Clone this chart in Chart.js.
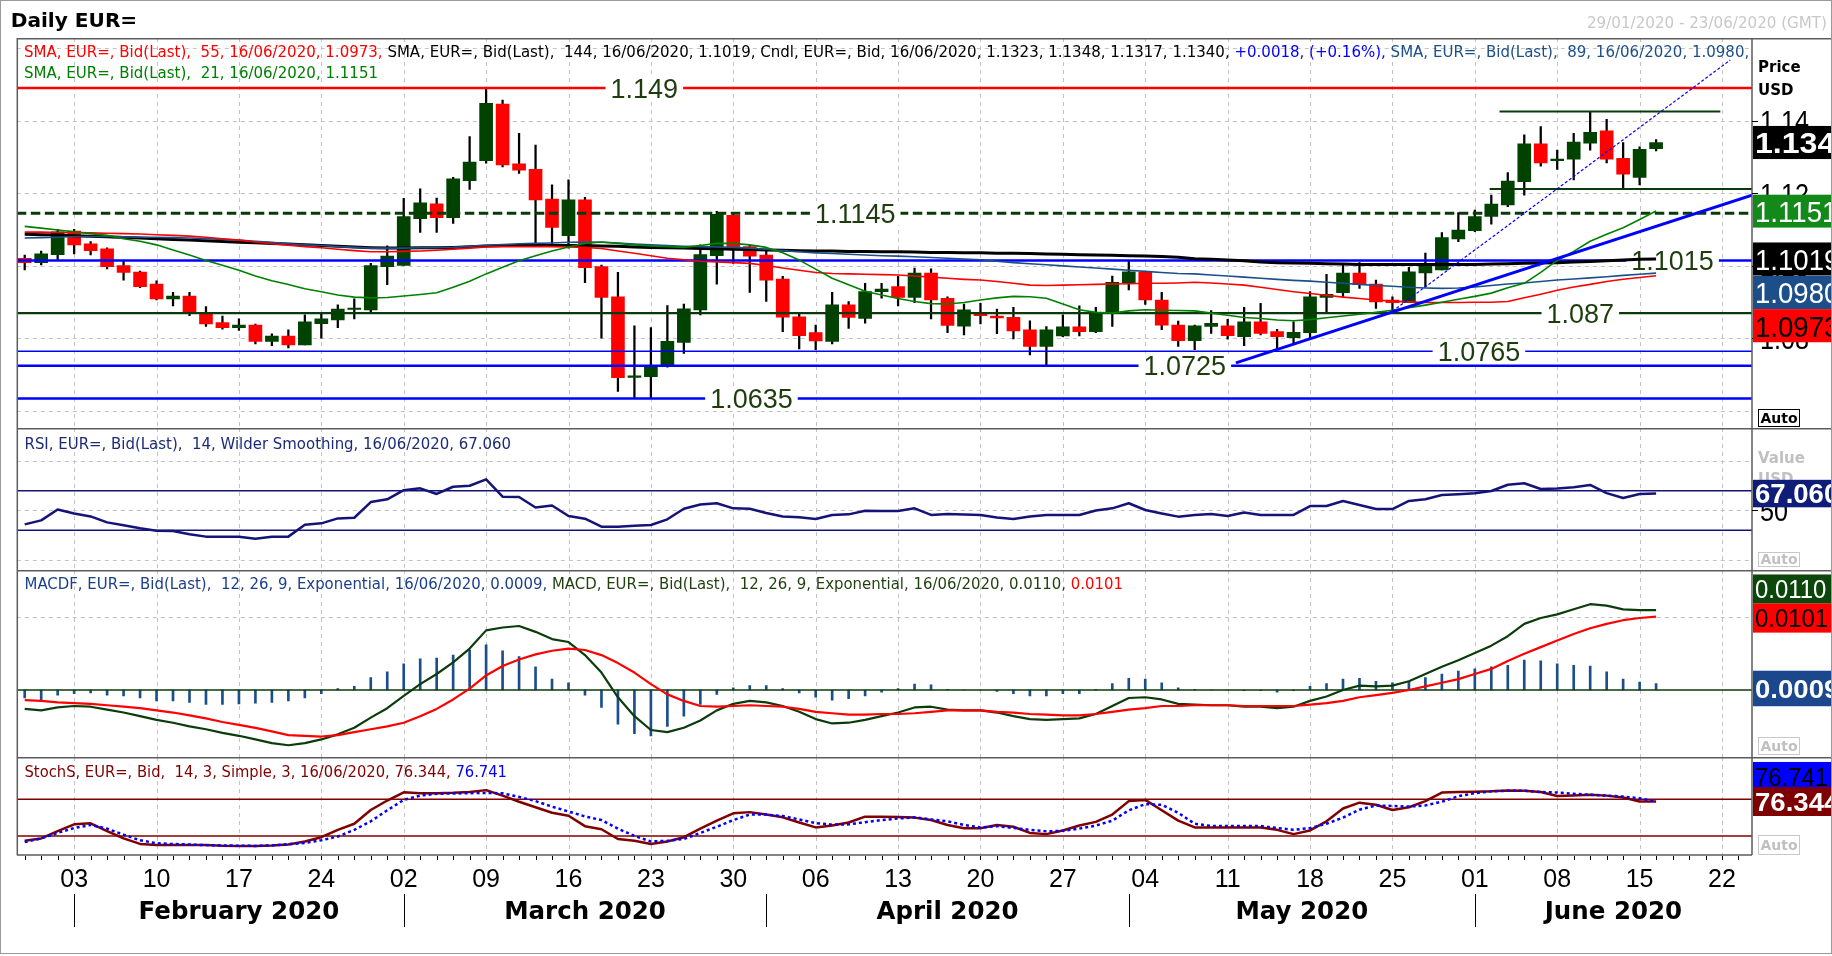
<!DOCTYPE html>
<html>
<head>
<meta charset="utf-8">
<title>Daily EUR=</title>
<script src="https://cdn.jsdelivr.net/npm/chart.js"></script>
<style>
  html, body { margin:0; padding:0; background:#ffffff; }
  #wrap { position:relative; width:1832px; height:956px; background:#ffffff; overflow:hidden; }
  #wrap canvas { position:absolute; left:0; }
  #frame { position:absolute; left:0; top:0; width:1830px; height:952px; border:1px solid #9a9a9a; pointer-events:none; }
</style>
</head>
<body>
<div id="wrap">
  <canvas id="cMain" width="1832" height="428" style="top:0px;width:1832px;height:428px"></canvas>
  <canvas id="cRsi" width="1832" height="142" style="top:428px;width:1832px;height:142px"></canvas>
  <canvas id="cMacd" width="1832" height="187" style="top:570px;width:1832px;height:187px"></canvas>
  <canvas id="cSto" width="1832" height="199" style="top:757px;width:1832px;height:199px"></canvas>
  <div id="frame"></div>
</div>
<script>
// ===================== DATA =====================
const dates = ['29/01','30/01','31/01','03/02','04/02','05/02','06/02','07/02','10/02','11/02','12/02','13/02','14/02','17/02','18/02','19/02','20/02','21/02','24/02','25/02','26/02','27/02','28/02','02/03','03/03','04/03','05/03','06/03','09/03','10/03','11/03','12/03','13/03','16/03','17/03','18/03','19/03','20/03','23/03','24/03','25/03','26/03','27/03','30/03','31/03','01/04','02/04','03/04','06/04','07/04','08/04','09/04','10/04','13/04','14/04','15/04','16/04','17/04','20/04','21/04','22/04','23/04','24/04','27/04','28/04','29/04','30/04','01/05','04/05','05/05','06/05','07/05','08/05','11/05','12/05','13/05','14/05','15/05','18/05','19/05','20/05','21/05','22/05','25/05','26/05','27/05','28/05','29/05','01/06','02/06','03/06','04/06','05/06','08/06','09/06','10/06','11/06','12/06','15/06','16/06'];
const futureDates = ['17/06','18/06','19/06','22/06','23/06'];

const open = [1.1021,1.1009,1.1031,1.1096,1.1061,1.1047,1.1001,1.0983,1.0950,1.0909,
1.0917,1.0871,1.0844,1.0830,1.0837,1.0792,1.0807,1.0782,1.0841,1.0851,
1.0880,1.0879,1.0998,1.1001,1.1130,1.1171,1.1133,1.1235,1.1290,1.1446,
1.1281,1.1266,1.1184,1.1083,1.1182,1.0998,1.0915,1.0693,1.0695,1.0727,
1.0789,1.0879,1.1028,1.1139,1.1053,1.1030,1.0964,1.0860,1.0816,1.0792,
1.0893,1.0855,1.0929,1.0943,1.0913,1.0980,1.0911,1.0834,1.0872,1.0862,
1.0858,1.0824,1.0778,1.0807,1.0832,1.0819,1.0870,1.0954,1.0982,1.0906,
1.0837,1.0794,1.0833,1.0835,1.0805,1.0846,1.0819,1.0802,1.0816,1.0913,
1.0926,1.0980,1.0950,1.0906,1.0899,1.0981,1.0989,1.1074,1.1097,1.1136,
1.1168,1.1232,1.1336,1.1290,1.1294,1.1338,1.1372,1.1296,1.1244,1.1323];
const high = [1.1030,1.1041,1.1101,1.1101,1.1067,1.1050,1.1015,1.0986,1.0959,1.0927,
1.0927,1.0888,1.0862,1.0854,1.0840,1.0813,1.0824,1.0865,1.0871,1.0893,
1.0909,1.1007,1.1055,1.1186,1.1212,1.1187,1.1244,1.1356,1.1487,1.1457,
1.1365,1.1333,1.1223,1.1237,1.1189,1.1002,1.0982,1.0835,1.0830,1.0891,
1.0895,1.1058,1.1150,1.1145,1.1058,1.1046,1.0971,1.0868,1.0837,1.0927,
1.0902,1.0952,1.0952,1.0971,1.0994,1.0992,1.0915,1.0895,1.0897,1.0881,
1.0886,1.0849,1.0833,1.0865,1.0890,1.0886,1.0972,1.1015,1.0982,1.0927,
1.0848,1.0837,1.0877,1.0853,1.0886,1.0897,1.0825,1.0846,1.0929,1.0977,
1.1007,1.1009,1.0961,1.0915,1.0996,1.1035,1.1092,1.1147,1.1154,1.1195,
1.1257,1.1361,1.1384,1.1319,1.1365,1.1423,1.1404,1.1340,1.1328,1.1348];
const low = [1.0989,1.1003,1.1018,1.1033,1.1030,1.0992,1.0961,1.0940,1.0906,1.0890,
1.0863,1.0833,1.0826,1.0822,1.0785,1.0780,1.0774,1.0782,1.0801,1.0830,
1.0854,1.0874,1.0948,1.1001,1.1092,1.1092,1.1117,1.1211,1.1283,1.1273,
1.1255,1.1058,1.1055,1.1049,1.0954,1.0801,1.0654,1.0636,1.0636,1.0721,
1.0759,1.0865,1.0950,1.1007,1.0927,1.0902,1.0819,1.0771,1.0769,1.0785,
1.0828,1.0842,1.0911,1.0890,1.0899,1.0854,1.0816,1.0810,1.0840,1.0813,
1.0799,1.0755,1.0727,1.0805,1.0807,1.0816,1.0833,1.0934,1.0894,1.0824,
1.0778,1.0769,1.0814,1.0798,1.0780,1.0810,1.0773,1.0787,1.0800,1.0874,
1.0915,1.0938,1.0883,1.0878,1.0899,1.0943,1.0989,1.1067,1.1094,1.1115,
1.1163,1.1195,1.1275,1.1266,1.1237,1.1319,1.1284,1.1214,1.1223,1.1317];
const close = [1.1009,1.1033,1.1094,1.1058,1.1042,1.0998,1.0982,1.0943,1.0909,1.0917,
1.0874,1.0840,1.0830,1.0837,1.0792,1.0807,1.0782,1.0846,1.0854,1.0881,
1.0882,1.1001,1.1027,1.1136,1.1174,1.1133,1.1240,1.1286,1.1448,1.1278,
1.1264,1.1182,1.1106,1.1182,1.0995,1.0913,1.0692,1.0695,1.0725,1.0792,
1.0882,1.1031,1.1142,1.1053,1.1027,1.0961,1.0859,1.0808,1.0793,1.0893,
1.0858,1.0929,1.0936,1.0913,1.0980,1.0906,1.0836,1.0879,1.0863,1.0857,
1.0821,1.0778,1.0824,1.0832,1.0819,1.0870,1.0955,1.0984,1.0906,1.0837,
1.0794,1.0835,1.0842,1.0808,1.0846,1.0814,1.0805,1.0817,1.0915,1.0922,
1.0980,1.0948,1.0901,1.0899,1.0984,1.1007,1.1078,1.1099,1.1136,1.1170,
1.1234,1.1336,1.1284,1.1292,1.1341,1.1368,1.1294,1.1253,1.1321,1.1340];

const sma21 = [1.1109,1.1104,1.1099,1.1094,1.1089,1.1084,1.1075,1.1068,1.1058,1.1044,
1.1030,1.1015,1.1002,1.0988,1.0972,1.0959,1.0949,1.0937,1.0929,1.0920,
1.0914,1.0912,1.0913,1.0917,1.0921,1.0926,1.0941,1.0958,1.0978,1.0996,
1.1014,1.1028,1.1041,1.1052,1.1062,1.1066,1.1062,1.1058,1.1055,1.1053,
1.1051,1.1056,1.1062,1.1062,1.1058,1.1051,1.1036,1.1016,1.0991,1.0966,
1.0948,1.0930,1.0920,1.0910,1.0902,1.0896,1.0895,1.0899,1.0906,1.0912,
1.0916,1.0915,1.0911,1.0895,1.0879,1.0872,1.0870,1.0876,1.0879,1.0878,
1.0877,1.0876,1.0870,1.0864,1.0858,1.0855,1.0851,1.0849,1.0852,1.0857,
1.0862,1.0867,1.0872,1.0878,1.0885,1.0892,1.0900,1.0908,1.0916,1.0925,
1.0940,1.0952,1.0982,1.1015,1.1040,1.1068,1.1087,1.1105,1.1128,1.1151];
const sma55 = [1.1093,1.1093,1.1092,1.1092,1.1091,1.1090,1.1089,1.1088,1.1086,1.1084,
1.1082,1.1079,1.1075,1.1071,1.1066,1.1061,1.1057,1.1053,1.1050,1.1046,
1.1042,1.1039,1.1039,1.1040,1.1041,1.1043,1.1046,1.1049,1.1052,1.1053,
1.1053,1.1053,1.1053,1.1052,1.1051,1.1048,1.1041,1.1035,1.1028,1.1021,
1.1017,1.1013,1.1011,1.1009,1.1007,1.1001,1.0994,1.0988,1.0982,1.0979,
1.0978,1.0977,1.0976,1.0975,1.0972,1.0969,1.0966,1.0963,1.0961,1.0957,
1.0952,1.0947,1.0946,1.0947,1.0948,1.0949,1.0950,1.0951,1.0952,1.0952,
1.0953,1.0955,1.0953,1.0950,1.0947,1.0941,1.0935,1.0929,1.0924,1.0919,
1.0914,1.0910,1.0906,1.0903,1.0901,1.0899,1.0899,1.0899,1.0900,1.0900,
1.0902,1.0912,1.0922,1.0933,1.0942,1.0949,1.0957,1.0963,1.0968,1.0973];
const sma89 = [1.1077,1.1078,1.1079,1.1081,1.1081,1.1081,1.1080,1.1079,1.1079,1.1078,
1.1077,1.1075,1.1073,1.1071,1.1068,1.1065,1.1061,1.1058,1.1056,1.1053,
1.1051,1.1049,1.1049,1.1049,1.1050,1.1050,1.1051,1.1054,1.1057,1.1059,
1.1061,1.1062,1.1063,1.1065,1.1066,1.1065,1.1063,1.1060,1.1058,1.1056,
1.1054,1.1053,1.1052,1.1051,1.1049,1.1046,1.1042,1.1039,1.1036,1.1034,
1.1032,1.1030,1.1028,1.1027,1.1025,1.1023,1.1021,1.1019,1.1017,1.1013,
1.1009,1.1006,1.1003,1.1000,1.0997,1.0994,1.0991,1.0988,1.0985,1.0982,
1.0979,1.0978,1.0975,1.0972,1.0969,1.0966,1.0963,1.0960,1.0958,1.0955,
1.0952,1.0949,1.0946,1.0944,1.0941,1.0939,1.0938,1.0939,1.0942,1.0946,
1.0950,1.0953,1.0957,1.0961,1.0964,1.0967,1.0970,1.0974,1.0977,1.0980];
const sma144 = [1.1087,1.1086,1.1085,1.1083,1.1082,1.1080,1.1078,1.1077,1.1075,1.1073,
1.1071,1.1069,1.1067,1.1065,1.1064,1.1062,1.1060,1.1058,1.1056,1.1054,
1.1052,1.1050,1.1049,1.1049,1.1050,1.1050,1.1051,1.1053,1.1055,1.1056,
1.1056,1.1056,1.1056,1.1056,1.1056,1.1055,1.1054,1.1052,1.1051,1.1050,
1.1049,1.1048,1.1047,1.1046,1.1045,1.1044,1.1043,1.1042,1.1041,1.1041,
1.1040,1.1040,1.1039,1.1039,1.1038,1.1037,1.1037,1.1036,1.1036,1.1035,
1.1035,1.1034,1.1033,1.1032,1.1031,1.1030,1.1029,1.1028,1.1027,1.1026,
1.1024,1.1020,1.1018,1.1016,1.1014,1.1011,1.1009,1.1008,1.1007,1.1006,
1.1005,1.1004,1.1004,1.1004,1.1004,1.1004,1.1004,1.1004,1.1004,1.1005,
1.1006,1.1007,1.1008,1.1009,1.1011,1.1012,1.1014,1.1016,1.1018,1.1019];

const rsi14 = [36,40,51,47,44,38,35,32,29.6,29.2,
26,23.6,23.6,23.6,21.5,23.6,23.6,35.5,37,42,
42.7,58.5,61.3,70.5,72.4,66.7,74,75,81.5,64,
63.6,53,55,44.5,41.7,33.7,33.7,34.5,35.4,41.1,
51.8,56,57.3,52.2,51.8,47.5,44,43.1,41.4,45.5,
46.1,49.8,49.6,49.5,52.2,45.5,46.5,46,45.5,43,
41.4,44,45.5,45.5,45.5,50,52.2,57.3,50.5,47,
43.8,45.5,46.5,44.4,48,45.5,45.5,45.5,54.5,54.5,
59.6,55.5,51.5,51.5,59.6,61.3,65.6,66.5,67.5,69.7,
76,77.5,71.7,72.2,73.5,75.8,67.5,62.6,66.7,67.06];

const macdLine = [-0.0026,-0.0028,-0.0024,-0.0022,-0.0023,-0.0027,-0.0031,-0.0036,-0.0041,-0.0045,
-0.0050,-0.0054,-0.0059,-0.0063,-0.0068,-0.0073,-0.0076,-0.0073,-0.0068,-0.0061,
-0.0052,-0.0038,-0.0025,-0.0008,0.0008,0.0022,0.0038,0.0057,0.0082,0.0086,
0.0088,0.0080,0.0070,0.0066,0.0048,0.0024,-0.0010,-0.0036,-0.0055,-0.0058,
-0.0052,-0.0042,-0.0028,-0.0019,-0.0015,-0.0017,-0.0022,-0.0030,-0.0040,-0.0046,
-0.0045,-0.0041,-0.0036,-0.0031,-0.0024,-0.0023,-0.0027,-0.0028,-0.0028,-0.0031,
-0.0036,-0.0040,-0.0041,-0.0040,-0.0039,-0.0033,-0.0022,-0.0011,-0.0010,-0.0013,
-0.0019,-0.0020,-0.0021,-0.0021,-0.0023,-0.0023,-0.0025,-0.0023,-0.0015,-0.0009,
0.0000,0.0006,0.0005,0.0006,0.0012,0.0022,0.0032,0.0041,0.0051,0.0061,
0.0074,0.0091,0.0099,0.0104,0.0111,0.0118,0.0116,0.0111,0.0110,0.0110];
const macdSignal = [-0.0014,-0.0015,-0.0017,-0.0018,-0.0019,-0.0021,-0.0023,-0.0025,-0.0028,-0.0031,
-0.0035,-0.0039,-0.0044,-0.0048,-0.0052,-0.0057,-0.0062,-0.0063,-0.0064,-0.0062,
-0.0058,-0.0054,-0.0050,-0.0045,-0.0036,-0.0026,-0.0013,0.0002,0.0020,0.0033,
0.0042,0.0049,0.0054,0.0057,0.0055,0.0048,0.0037,0.0024,0.0008,-0.0006,
-0.0015,-0.0022,-0.0023,-0.0022,-0.0021,-0.0022,-0.0023,-0.0026,-0.0030,-0.0032,
-0.0034,-0.0034,-0.0033,-0.0033,-0.0032,-0.0030,-0.0028,-0.0028,-0.0028,-0.0030,
-0.0031,-0.0033,-0.0034,-0.0035,-0.0035,-0.0033,-0.0030,-0.0027,-0.0025,-0.0022,
-0.0022,-0.0021,-0.0021,-0.0021,-0.0022,-0.0022,-0.0022,-0.0022,-0.0020,-0.0018,
-0.0015,-0.0010,-0.0007,-0.0004,0.0000,0.0005,0.0010,0.0015,0.0022,0.0029,
0.0040,0.0050,0.0059,0.0068,0.0077,0.0085,0.0091,0.0096,0.0099,0.0101];
const macdHist = [-0.0011,-0.0016,-0.0007,-0.0005,-0.0004,-0.0007,-0.0008,-0.0011,-0.0015,-0.0015,
-0.0017,-0.0020,-0.0020,-0.0019,-0.0018,-0.0017,-0.0015,-0.0011,-0.0005,0.0002,
0.0005,0.0017,0.0025,0.0036,0.0043,0.0044,0.0048,0.0055,0.0062,0.0054,
0.0046,0.0032,0.0015,0.0010,-0.0007,-0.0024,-0.0047,-0.0060,-0.0063,-0.0050,
-0.0036,-0.0020,-0.0006,0.0003,0.0006,0.0006,0.0002,-0.0004,-0.0010,-0.0014,
-0.0012,-0.0008,-0.0003,0.0002,0.0008,0.0007,0.0001,0.0000,0.0000,-0.0002,
-0.0005,-0.0008,-0.0008,-0.0005,-0.0005,0.0001,0.0009,0.0016,0.0015,0.0010,
0.0003,0.0001,0.0000,0.0000,-0.0001,-0.0001,-0.0003,-0.0001,0.0005,0.0009,
0.0015,0.0016,0.0012,0.0010,0.0012,0.0017,0.0022,0.0026,0.0029,0.0032,
0.0034,0.0041,0.0040,0.0036,0.0034,0.0033,0.0025,0.0015,0.0011,0.0009];

const stochK = [12,16,28,39,40.7,28,16,7,5.2,5.2,
5.2,5.2,4,3.6,3.6,4.5,6,11,18,30,
40,62.5,78,91.4,89.7,89.7,90.5,92,95,86,
76,67,58,53,36,31,15,12,7,11,
18,32,45,57,59,55,50.5,42,34,37,
42,51.6,51.6,51,50,46,38,32.5,32.5,37.9,
35,25,23,29,37,43,55,77,79,62,
45,34,34,34,34,34,30,23,29,44,
65,74.5,71,62.5,67,77,91,92,92.5,93,
94.5,94,92,85.5,86.3,87.5,86,83,76.3,76.344];
const stochD = [10,16,25,33,38,32,22,13,8,6.8,
6,5,4.5,4,3.7,4.5,6.5,8.5,13,19,
30,44,62,79,86,89,89.5,90,90.5,89.7,
84,77,68,60,52,46,32,20,11,12,
15,25,35,46,55,55,52.7,47,41,38.5,
39,42.5,46,48.5,50.5,47,44,38,34,36,
33,30,27.5,28.5,32,37,45,62,72,71,
58,40,36.3,36.3,36.3,36.3,33,30,33,40,
50,63,70,69,68,70,76,85,90,93,
94,94,92,91,89,87.5,86,84.5,81.6,76.741];

// horizontal levels, trend lines and segments (value space)
const levelValues = [1.149, 1.1145, 1.1015, 1.087, 1.0765, 1.0725, 1.0635];
const levelLabels = ['1.149','1.1145','1.1015','1.087','1.0765','1.0725','1.0635'];
const levelLabelIdx = [37.6, 50.4, 100.0, 94.4, 88.25, 70.4, 44.1];
const upTrendX = [73.5, 104.82], upTrendY = [1.0733, 1.1195];
const steepTrendX = [83.0, 103.5], steepTrendY = [1.0875, 1.1567];
const topRangeX = [89.5, 102.9], topRangeY = [1.1425, 1.1425];
const lowRangeX = [88.9, 104.82], lowRangeY = [1.1212, 1.1212];

// axis ticks
const priceGrid = [1.06, 1.08, 1.10, 1.12, 1.14, 1.16];
const priceTickVals = [1.08, 1.10, 1.12, 1.14];
const priceTickLabels = ['1.08', '1.10', '1.12', '1.14'];
const rsiLevels = [70, 30];
const rsiGrid = [0, 50, 100];
const macdGrid = [0.01];
const stochLevels = [80, 20];
const mondayIdx = [3,8,13,18,23,28,33,38,43,48,53,58,63,68,73,78,83,88,93,98,103];
const mondayLabels = ['03','10','17','24','02','09','16','23','30','06','13','20','27','04','11','18','25','01','08','15','22'];
const monthNames = ['February 2020','March 2020','April 2020','May 2020','June 2020'];
const monthStartIdx = [3, 23, 45, 67, 88];

// ===================== LAYOUT / STYLE =====================
const X_MIN = -0.48, X_MAX = 104.82;
const F_DV = '"DejaVu Sans", Verdana, sans-serif';
const F_LIB = '"Liberation Sans", Arial, sans-serif';
const GREEN_DK = '#0a3a0a';
const SMA89_C = '#1c4f8a';
const N = dates.length;
const idx = dates.map((_, i) => i);

function xCfg() { return { type: 'linear', min: X_MIN, max: X_MAX, display: false, offset: false }; }
function pts(arr) { return idx.map(i => ({ x: i, y: arr[i] })); }
function seg(xs, ys) { return xs.map((x, k) => ({ x: x, y: ys[k] })); }
function flat(v) { return [{ x: X_MIN, y: v }, { x: X_MAX, y: v }]; }
function lineDs(data, color, width, order, extra) {
  return Object.assign({ type: 'line', data: data, borderColor: color, borderWidth: width, pointRadius: 0,
    tension: 0, fill: false, order: order, borderJoinStyle: 'round' }, extra || {});
}

function fitText(ctx, segs, x, y, font, targetW) {
  ctx.save();
  ctx.font = font; ctx.textBaseline = 'alphabetic'; ctx.textAlign = 'left';
  let w = 0; for (const s of segs) w += ctx.measureText(s[0]).width;
  const sx = targetW ? targetW / w : 1;
  ctx.translate(x, y); ctx.scale(sx, 1);
  let cx = 0;
  for (const s of segs) { ctx.fillStyle = s[1]; ctx.fillText(s[0], cx, 0); cx += ctx.measureText(s[0]).width; }
  ctx.restore();
}
function valueBox(ctx, yc, h, bg, fg, text, bold, px, sx) {
  ctx.save();
  ctx.beginPath(); ctx.rect(1753, yc - h / 2, 79, h); ctx.clip();
  ctx.fillStyle = bg; ctx.fillRect(1753, yc - h / 2, 79, h);
  ctx.fillStyle = fg; ctx.font = (bold ? 'bold ' : '') + px + 'px ' + F_LIB;
  ctx.textBaseline = 'alphabetic'; ctx.textAlign = 'left';
  ctx.translate(1755, yc + px * 0.716 / 2); ctx.scale(sx, 1); ctx.fillText(text, 0, 0);
  ctx.restore();
}
function axisLabel(ctx, y, text, color) {
  ctx.save();
  ctx.strokeStyle = '#000'; ctx.lineWidth = 1; ctx.beginPath(); ctx.moveTo(1752, Math.round(y) + 0.5); ctx.lineTo(1758, Math.round(y) + 0.5); ctx.stroke();
  ctx.fillStyle = color || '#000'; ctx.font = '30px ' + F_LIB; ctx.textBaseline = 'alphabetic';
  ctx.translate(1760, y + 10.7); ctx.scale(0.84, 1); ctx.fillText(text, 0, 0);
  ctx.restore();
}
function autoBox(ctx, top, bottom, dark) {
  ctx.save();
  ctx.fillStyle = '#fff'; ctx.fillRect(1758, top, 42, bottom - top);
  ctx.strokeStyle = dark ? '#000' : '#c8c8c8'; ctx.lineWidth = 1;
  ctx.strokeRect(1758.5, top + 0.5, 41, bottom - top - 1);
  ctx.fillStyle = dark ? '#000' : '#c0c0c0'; ctx.font = 'bold 14px ' + F_DV;
  ctx.textAlign = 'center'; ctx.textBaseline = 'middle'; ctx.fillText('Auto', 1779, (top + bottom) / 2 + 1);
  ctx.restore();
}
function gridPlugin(hVals) {
  return { id: 'panelGrid', beforeDatasetsDraw(chart) {
    const ctx = chart.ctx, a = chart.chartArea, xs = chart.scales.x, ys = chart.scales.y;
    ctx.save(); ctx.strokeStyle = '#c4c4c4'; ctx.lineWidth = 1; ctx.setLineDash([4, 4]);
    ctx.beginPath();
    for (const m of mondayIdx) { const px = Math.round(xs.getPixelForValue(m)) + 0.5; ctx.moveTo(px, a.top); ctx.lineTo(px, a.bottom); }
    for (const v of hVals) { const py = Math.round(ys.getPixelForValue(v)) + 0.5; if (py > a.top + 1 && py < a.bottom - 1) { ctx.moveTo(a.left, py); ctx.lineTo(a.right, py); } }
    ctx.stroke(); ctx.restore();
  } };
}
function panelFrame(chart, withBottom) {
  const ctx = chart.ctx, a = chart.chartArea;
  ctx.save(); ctx.strokeStyle = '#5c5c5c'; ctx.lineWidth = 1.5; ctx.setLineDash([]);
  ctx.beginPath();
  const t = a.top + 0.75;
  ctx.moveTo(a.left, t); ctx.lineTo(1832, t);
  ctx.moveTo(a.left + 0.5, a.top); ctx.lineTo(a.left + 0.5, a.bottom);
  ctx.moveTo(a.right, a.top); ctx.lineTo(a.right, a.bottom);
  if (withBottom) { ctx.moveTo(a.left, a.bottom); ctx.lineTo(a.right, a.bottom); }
  ctx.stroke(); ctx.restore();
}
const baseOptions = (yMin, yMax, padding) => ({
  responsive: false, animation: false, events: [],
  layout: { padding: padding },
  scales: { x: xCfg(), y: { type: 'linear', min: yMin, max: yMax, display: false } },
  plugins: { legend: { display: false }, tooltip: { enabled: false }, title: { display: false } }
});

// ===================== MAIN PRICE PANEL =====================
const levelStyles = [
  { c: '#ff0000', w: 2.5 }, { c: GREEN_DK, w: 3, dash: [9.5, 4.5] }, { c: '#0000ff', w: 2.5 },
  { c: GREEN_DK, w: 2.2 }, { c: '#0000ff', w: 1.5 }, { c: '#0000ff', w: 2.5 }, { c: '#0000ff', w: 2.5 }
];
const mainDatasets = [
  { type: 'bar', data: idx.map(i => ({ x: i, y: [low[i], high[i]] })), backgroundColor: '#000000',
    barThickness: 1.6, grouped: false, order: 60 },
  { type: 'bar', data: idx.map(i => ({ x: i, y: [open[i], close[i]] })),
    backgroundColor: idx.map(i => close[i] >= open[i] ? '#004200' : '#ff0000'),
    barThickness: 13, minBarLength: 1.5, grouped: false, order: 50 }
];
levelValues.forEach((v, k) => {
  const st = levelStyles[k];
  mainDatasets.push(lineDs(flat(v), st.c, st.w, 41 + k, { borderDash: st.dash || [], borderJoinStyle: 'miter', labelsAfter: k === 0 }));
});
mainDatasets.push(lineDs(pts(sma144), '#000000', 3, 34));
mainDatasets.push(lineDs(pts(sma89), SMA89_C, 1.6, 33));
mainDatasets.push(lineDs(pts(sma55), '#ff0000', 1.6, 32));
mainDatasets.push(lineDs(pts(sma21), '#008000', 1.6, 31));
mainDatasets.push(lineDs(seg(topRangeX, topRangeY), GREEN_DK, 2, 24));
mainDatasets.push(lineDs(seg(lowRangeX, lowRangeY), GREEN_DK, 2, 23));
mainDatasets.push(lineDs(seg(upTrendX, upTrendY), '#0000ff', 3, 22));
mainDatasets.push(lineDs(seg(steepTrendX, steepTrendY), '#0000ff', 1.2, 21, { borderDash: [3, 2] }));

const mainOverlay = {
  id: 'mainOverlay',
  afterDatasetDraw(chart, args) {
    const ds = chart.data.datasets[args.index];
    if (!ds.labelsAfter) return;
    const ctx = chart.ctx, xs = chart.scales.x, ys = chart.scales.y;
    ctx.save();
    ctx.font = '27px ' + F_LIB;
    levelValues.forEach((v, k) => {
      const x = xs.getPixelForValue(levelLabelIdx[k]), y = ys.getPixelForValue(v);
      const w = ctx.measureText(levelLabels[k]).width;
      ctx.fillStyle = '#ffffff'; ctx.fillRect(x - w / 2 - 5, y - 12, w + 10, 24);
      ctx.fillStyle = '#1e3d0e'; ctx.textAlign = 'center'; ctx.textBaseline = 'alphabetic';
      ctx.fillText(levelLabels[k], x, y + 9.7);
    });
    ctx.restore();
  },
  afterDraw(chart) {
    const ctx = chart.ctx, ys = chart.scales.y;
    // title & date range
    fitText(ctx, [['Daily EUR=', '#000000']], 10.7, 26.7, 'bold 20px ' + F_DV, 126.5);
    fitText(ctx, [['29/01/2020 - 23/06/2020 (GMT)', '#c8c8c8']], 1827 - 240, 28.3, '16px ' + F_DV, 240);
    // legend
    ctx.save(); ctx.beginPath(); ctx.rect(0, 0, 1751, 428); ctx.clip();
    fitText(ctx, [
      ['SMA, EUR=, Bid(Last),  55, 16/06/2020, 1.0973, ', '#ff0000'],
      ['SMA, EUR=, Bid(Last),  144, 16/06/2020, 1.1019, ', '#000000'],
      ['Cndl, EUR=, Bid, 16/06/2020, 1.1323, 1.1348, 1.1317, 1.1340, ', '#000000'],
      ['+0.0018, (+0.16%), ', '#0000ff'],
      ['SMA, EUR=, Bid(Last),  89, 16/06/2020, 1.0980, ', SMA89_C]
    ], 24, 56.7, '15px ' + F_DV, 1730);
    ctx.restore();
    fitText(ctx, [['SMA, EUR=, Bid(Last),  21, 16/06/2020, 1.1151', '#008000']], 24, 78.3, '15px ' + F_DV, 354);
    panelFrame(chart, false);
    // right axis
    ctx.save(); ctx.fillStyle = '#000'; ctx.font = 'bold 15px ' + F_DV; ctx.textBaseline = 'alphabetic';
    ctx.fillText('Price', 1758, 71.7); ctx.fillText('USD', 1758, 95); ctx.restore();
    priceTickVals.forEach((v, k) => axisLabel(ctx, ys.getPixelForValue(v), priceTickLabels[k]));
    const boxes = [
      { v: close[N - 1], bg: '#000000', fg: '#ffffff', bold: true, sx: 1.07 },
      { v: sma21[N - 1], bg: '#13891a', fg: '#ffffff', bold: false, sx: 0.92 },
      { v: sma144[N - 1], bg: '#000000', fg: '#ffffff', bold: false, sx: 0.92 },
      { v: sma89[N - 1], bg: SMA89_C, fg: '#ffffff', bold: false, sx: 0.92 },
      { v: sma55[N - 1], bg: '#ff0000', fg: '#000000', bold: false, sx: 0.92 }
    ].sort((a, b) => b.v - a.v);
    const H = 33.4; let prevBottom = -1e9;
    boxes.forEach(b => {
      let top = ys.getPixelForValue(b.v) - H / 2;
      if (top < prevBottom) top = prevBottom;
      valueBox(ctx, top + H / 2, H, b.bg, b.fg, b.v.toFixed(4), b.bold, 30, b.sx);
      prevBottom = top + H;
    });
    autoBox(ctx, 409, 427, true);
  }
};

new Chart(document.getElementById('cMain'), {
  type: 'bar',
  data: { datasets: mainDatasets },
  options: baseOptions(1.055344, 1.162782, { left: 16.8, right: 80, top: 38, bottom: 0 }),
  plugins: [gridPlugin(priceGrid), mainOverlay]
});

// ===================== RSI PANEL =====================
const rsiOverlay = {
  id: 'rsiOverlay',
  afterDraw(chart) {
    const ctx = chart.ctx, ys = chart.scales.y;
    fitText(ctx, [['RSI, EUR=, Bid(Last),  14, Wilder Smoothing, 16/06/2020, 67.060', '#1c2a78']], 24.5, 21.3, '15px ' + F_DV, 486.5);
    panelFrame(chart, false);
    ctx.save(); ctx.fillStyle = '#c0c0c0'; ctx.font = 'bold 15px ' + F_DV; ctx.textBaseline = 'alphabetic';
    ctx.fillText('Value', 1758, 35.3); ctx.fillText('USD', 1758, 56); ctx.restore();
    axisLabel(ctx, ys.getPixelForValue(50), '50');
    valueBox(ctx, ys.getPixelForValue(rsi14[N - 1]), 28, '#0d1d78', '#ffffff', rsi14[N - 1].toFixed(3), true, 27, 1.02);
    autoBox(ctx, 124, 139, false);
  }
};
new Chart(document.getElementById('cRsi'), {
  type: 'line',
  data: { datasets: [
    lineDs(pts(rsi14), '#141478', 2.5, 1),
    lineDs(flat(rsiLevels[0]), '#141478', 1.5, 2),
    lineDs(flat(rsiLevels[1]), '#141478', 1.5, 3)
  ] },
  options: baseOptions(-10.1, 133.33, { left: 16.8, right: 80, top: 0, bottom: 0 }),
  plugins: [gridPlugin(rsiGrid), rsiOverlay]
});

// ===================== MACD PANEL =====================
const macdOverlay = {
  id: 'macdOverlay',
  afterDraw(chart) {
    const ctx = chart.ctx, ys = chart.scales.y;
    fitText(ctx, [
      ['MACDF, EUR=, Bid(Last),  12, 26, 9, Exponential, 16/06/2020, 0.0009, ', '#1c3f8a'],
      ['MACD, EUR=, Bid(Last),  12, 26, 9, Exponential, 16/06/2020, 0.0110, ', '#1f3f0f'],
      ['0.0101', '#ff0000']
    ], 24.5, 19.3, '15px ' + F_DV, 1098.5);
    panelFrame(chart, false);
    valueBox(ctx, ys.getPixelForValue(macdLine[N - 1]) - 21, 29.5, '#0b470b', '#ffffff', macdLine[N - 1].toFixed(4), false, 26, 0.92);
    valueBox(ctx, ys.getPixelForValue(macdSignal[N - 1]) + 1.5, 29.5, '#ff0000', '#000000', macdSignal[N - 1].toFixed(4), false, 26, 0.92);
    valueBox(ctx, ys.getPixelForValue(macdHist[N - 1]) + 5, 36, '#1b478c', '#ffffff', macdHist[N - 1].toFixed(4), true, 26, 1.06);
    autoBox(ctx, 167, 185, false);
  }
};
new Chart(document.getElementById('cMacd'), {
  type: 'bar',
  data: { datasets: [
    { type: 'bar', data: pts(macdHist), backgroundColor: SMA89_C, barThickness: 2, grouped: false, order: 5 },
    lineDs(flat(0), GREEN_DK, 1.5, 4, { borderJoinStyle: 'miter' }),
    lineDs(pts(macdLine), '#0b3d0b', 2.2, 3),
    lineDs(pts(macdSignal), '#ff0000', 2.2, 2)
  ] },
  options: baseOptions(-0.009216, 0.016506, { left: 16.8, right: 80, top: 0, bottom: 0 }),
  plugins: [gridPlugin(macdGrid), macdOverlay]
});

// ===================== STOCHASTIC PANEL + X AXIS =====================
const stoOverlay = {
  id: 'stoOverlay',
  afterDraw(chart) {
    const ctx = chart.ctx, ys = chart.scales.y, xs = chart.scales.x, a = chart.chartArea;
    fitText(ctx, [
      ['StochS, EUR=, Bid,  14, 3, Simple, 3, 16/06/2020, 76.344, ', '#800000'],
      ['76.741', '#0000ff']
    ], 24.5, 19.7, '15px ' + F_DV, 482.5);
    panelFrame(chart, true);
    valueBox(ctx, ys.getPixelForValue(stochD[N - 1]) - 25, 29, '#0000ff', '#000000', stochD[N - 1].toFixed(3), false, 26, 0.92);
    valueBox(ctx, ys.getPixelForValue(stochK[N - 1]), 29, '#7f0000', '#ffffff', stochK[N - 1].toFixed(3), true, 26, 1.06);
    autoBox(ctx, 78, 98, false);
    // x axis: minor ticks for every trading day slot
    const total = dates.length + futureDates.length;
    ctx.save(); ctx.strokeStyle = '#000'; ctx.lineWidth = 1; ctx.beginPath();
    for (let i = 0; i < total; i++) { const px = Math.round(xs.getPixelForValue(i)) + 0.5; ctx.moveTo(px, a.bottom + 1); ctx.lineTo(px, a.bottom + 5); }
    ctx.stroke();
    // day labels
    ctx.fillStyle = '#000'; ctx.font = '25px ' + F_LIB; ctx.textAlign = 'center'; ctx.textBaseline = 'alphabetic';
    mondayIdx.forEach((m, k) => ctx.fillText(mondayLabels[k], xs.getPixelForValue(m), 129.7));
    // month separators & labels
    ctx.beginPath();
    monthStartIdx.forEach(m => { const px = Math.round(xs.getPixelForValue(m)) + 0.5; ctx.moveTo(px, 137); ctx.lineTo(px, 170); });
    ctx.stroke();
    ctx.font = 'bold 24.5px ' + F_DV;
    monthNames.forEach((name, k) => {
      const s = monthStartIdx[k], e = k + 1 < monthStartIdx.length ? monthStartIdx[k + 1] : X_MAX;
      ctx.fillText(name, xs.getPixelForValue((s + e) / 2), 162.3);
    });
    ctx.restore();
  }
};
new Chart(document.getElementById('cSto'), {
  type: 'line',
  data: { datasets: [
    lineDs(pts(stochD), '#0000ff', 2.5, 1, { borderDash: [3, 3] }),
    lineDs(pts(stochK), '#800000', 2.5, 2),
    lineDs(flat(stochLevels[0]), '#800000', 1.5, 3),
    lineDs(flat(stochLevels[1]), '#800000', 1.5, 4)
  ] },
  options: baseOptions(-11.16, 149.2, { left: 16.8, right: 80, top: 0, bottom: 101 }),
  plugins: [gridPlugin([]), stoOverlay]
});
</script>
</body>
</html>
